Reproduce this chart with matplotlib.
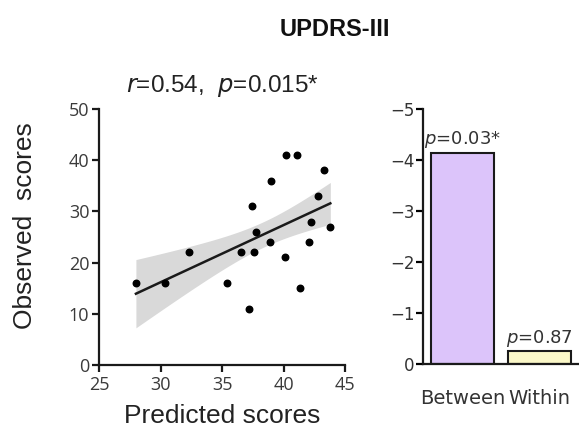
import numpy as np
import matplotlib.pyplot as plt

# scatter data
predicted = [28.0, 30.4, 32.3, 35.4, 36.5, 37.2, 37.4, 37.6, 37.8, 38.9,
             39.0, 40.1, 40.2, 41.1, 41.3, 42.1, 42.2, 42.8, 43.3, 43.8]
observed = [16, 16, 22, 16, 22, 11, 31, 22, 26, 24,
            36, 21, 41, 41, 15, 24, 28, 33, 38, 27]

groups = ['Between', 'Within']
effects = [-4.15, -0.25]
p_labels = ['$p$=0.03*', '$p$=0.87']
bar_colors = ['#dcc4fa', '#fbf8c8']

x_ticks = [25, 30, 35, 40, 45]
y_ticks = [0, 10, 20, 30, 40, 50]
bar_ticks = [-5, -4, -3, -2, -1, 0]

fig = plt.figure(figsize=(5.79, 4.34), dpi=100)

#################
# scatter panel #
#################
ax = fig.add_axes([0.171, 0.159, 0.425, 0.59])
x = np.array(predicted)
y = np.array(observed)
slope, icpt = np.polyfit(x, y, 1)
xs = np.linspace(x.min(), x.max(), 100)
ys = slope * xs + icpt
n = len(x)
resid = y - (slope * x + icpt)
s_err = np.sqrt(np.sum(resid ** 2) / (n - 2))
band_k = 1.45  # width of the shaded band as drawn in the figure
half = band_k * s_err * np.sqrt(1.0 / n + (xs - x.mean()) ** 2 / np.sum((x - x.mean()) ** 2))
ax.fill_between(xs, ys - half, ys + half, color='#d9d9d9', lw=0, zorder=1)
ax.plot(xs, ys, color='#1a1a1a', lw=1.8, zorder=2)
ax.scatter(x, y, s=22, color='black', zorder=3)

ax.set_xlim(25, 45)
ax.set_ylim(0, 50)
ax.set_xticks(x_ticks)
ax.set_yticks(y_ticks)
for side in ['top', 'right']:
    ax.spines[side].set_visible(False)
for side in ['left', 'bottom']:
    ax.spines[side].set_linewidth(1.6)
    ax.spines[side].set_color('#1a1a1a')
ax.tick_params(width=1.6, length=5, color='#1a1a1a', labelsize=13,
               labelcolor='#3a3a3a')
ax.tick_params(axis='x', pad=3)
ax.tick_params(axis='y', pad=2)
for lab in ax.get_xticklabels() + ax.get_yticklabels():
    lab.set_family('Open Sans')
ax.set_xlabel('Predicted scores', fontsize=19, family='Liberation Sans',
              color='#222222', labelpad=7)
ax.set_ylabel('Observed  scores', fontsize=19, family='Liberation Sans',
              color='#222222')
ax.yaxis.set_label_coords(-0.25, 0.545)
ax.set_title('$r$=0.54,  $p$=0.015*', fontsize=17.5, family='Liberation Sans',
             color='#222222', pad=12)

#############
# bar panel #
#############
bx = fig.add_axes([0.7306, 0.161, 0.268, 0.587])
pos = np.arange(len(groups))
bx.bar(pos, effects, width=0.82, color=bar_colors, edgecolor='#1a1a1a', lw=1.5)
for i in range(len(groups)):
    bx.text(pos[i], effects[i] - 0.05, p_labels[i], ha='center', va='bottom',
            fontsize=13, color='#333333')
bx.set_ylim(0, -5)
bx.set_xlim(-0.51, 1.5)
bx.set_yticks(bar_ticks)
bx.set_yticklabels(['\u22125', '\u22124', '\u22123', '\u22122', '\u22121', '0'])
bx.set_xticks(pos)
bx.set_xticklabels(groups)
for side in ['top', 'right']:
    bx.spines[side].set_visible(False)
for side in ['left', 'bottom']:
    bx.spines[side].set_linewidth(1.6)
    bx.spines[side].set_color('#1a1a1a')
bx.tick_params(axis='y', width=1.6, length=5, labelsize=12, labelcolor='#333333', pad=1)
bx.tick_params(axis='x', length=0, labelsize=14, labelcolor='#333333', pad=18)

fig.text(0.578, 0.933, 'UPDRS-III', ha='center', va='center', fontsize=17,
         fontweight='bold', family='Liberation Sans', color='#111111')

fig.savefig('out.png', dpi=100)
